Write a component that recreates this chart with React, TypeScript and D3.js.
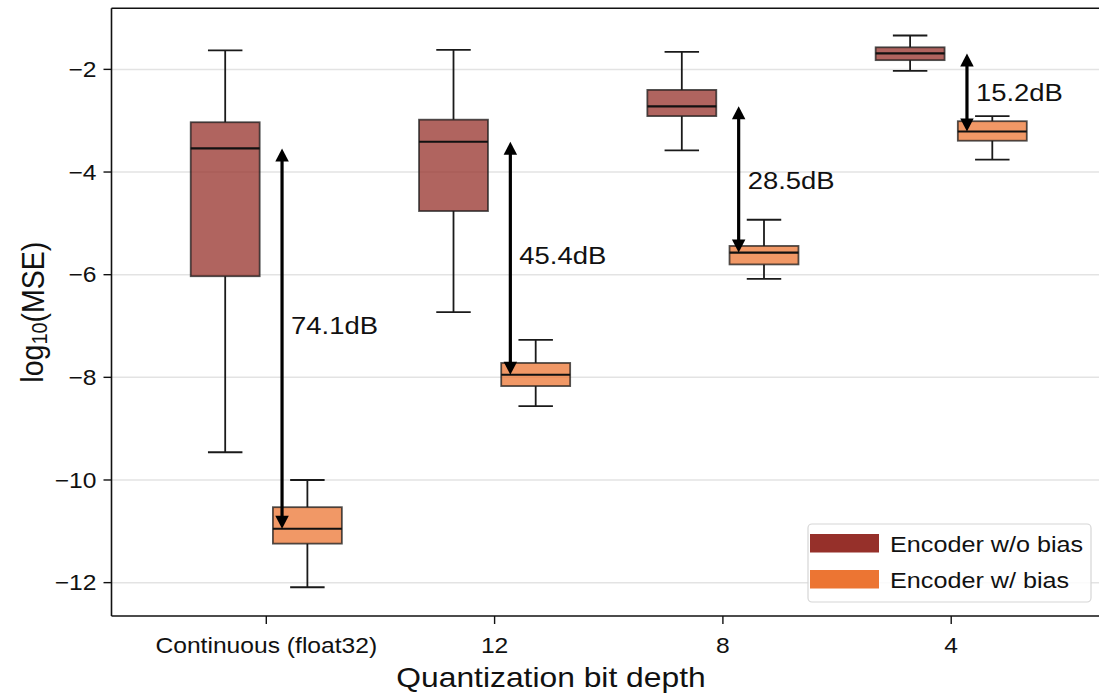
import React from "react";
import * as d3 from "d3";

const categories = ["Continuous (float32)", "12", "8", "4"];
// [whiskerLow, q1, median, q3, whiskerHigh]
const noBiasStats = [
  [-9.46, -6.03, -3.54, -3.03, -1.63],
  [-6.73, -4.76, -3.41, -2.98, -1.62],
  [-3.58, -2.91, -2.72, -2.4, -1.66],
  [-2.03, -1.82, -1.69, -1.57, -1.34],
];
const withBiasStats = [
  [-12.09, -11.24, -10.95, -10.53, -10.0],
  [-8.56, -8.17, -7.95, -7.72, -7.27],
  [-6.08, -5.8, -5.57, -5.44, -4.93],
  [-3.76, -3.39, -3.21, -3.01, -2.91],
];
const gainLabels = ["74.1dB", "45.4dB", "28.5dB", "15.2dB"];
const gainLabelY = [-7.0, -5.63, -4.17, -2.46];
const yTicks = [-2, -4, -6, -8, -10, -12];
const seriesNames = ["Encoder w/o bias", "Encoder w/ bias"];
const seriesColors = ["#96302a", "#ec7533"];

const W = 1099;
const H = 694;
const FONT = "'Liberation Sans', Arial, Helvetica, sans-serif";
const SX = 1.12;

function STxt(props: {
  x: number;
  y: number;
  size: number;
  anchor?: string;
  children: React.ReactNode;
}) {
  return (
    <g transform={`translate(${props.x},${props.y}) scale(${SX},1)`}>
      <text
        x={0}
        y={0}
        textAnchor={props.anchor || "start"}
        dominantBaseline="central"
        fontSize={props.size}
        fill="#111"
      >
        {props.children}
      </text>
    </g>
  );
}

export default function App() {
  const left = 111.5, right = 1106, top = 8.3, bottom = 616;
  const x = d3.scaleLinear().domain([-0.678, 3.678]).range([left, right]);
  const y = d3.scaleLinear().domain([-12.65, -0.81]).range([bottom, top]);
  const off = 0.18;
  const bw = 0.302;
  const unit = x(1) - x(0);
  const boxW = bw * unit;
  const capW = boxW / 2;

  const renderBox = (s: number[], cx: number, color: string, key: string) => {
    const [lo, q1, med, q3, hi] = s;
    const px = x(cx);
    return (
      <g key={key}>
        <line x1={px} x2={px} y1={y(hi)} y2={y(q3)} stroke="#1a1a1a" strokeWidth={1.8} />
        <line x1={px} x2={px} y1={y(q1)} y2={y(lo)} stroke="#1a1a1a" strokeWidth={1.8} />
        <line x1={px - capW / 2} x2={px + capW / 2} y1={y(hi)} y2={y(hi)} stroke="#1a1a1a" strokeWidth={1.8} />
        <line x1={px - capW / 2} x2={px + capW / 2} y1={y(lo)} y2={y(lo)} stroke="#1a1a1a" strokeWidth={1.8} />
        <rect
          x={px - boxW / 2}
          y={y(q3)}
          width={boxW}
          height={y(q1) - y(q3)}
          fill={color}
          fillOpacity={0.75}
          stroke="#1a1a1a"
          strokeOpacity={0.75}
          strokeWidth={1.8}
        />
        <line x1={px - boxW / 2} x2={px + boxW / 2} y1={y(med)} y2={y(med)} stroke="#111" strokeWidth={2.2} />
      </g>
    );
  };

  const arrowOff = 0.069;
  const headL = 13;
  const headW = 13.5;

  return (
    <svg
      width={W}
      height={H}
      style={{ position: "absolute", left: 0, top: 0, background: "#fff" }}
      fontFamily={FONT}
    >
      <rect x={0} y={0} width={W} height={H} fill="#fff" />
      {/* grid */}
      {yTicks.map((t) => (
        <line key={"g" + t} x1={left} x2={right} y1={y(t)} y2={y(t)} stroke="#e3e3e3" strokeWidth={1.5} />
      ))}
      {/* boxes */}
      {categories.map((c, i) => (
        <g key={c}>
          {renderBox(noBiasStats[i], i - off, seriesColors[0], "a" + i)}
          {renderBox(withBiasStats[i], i + off, seriesColors[1], "b" + i)}
        </g>
      ))}
      {/* arrows */}
      {categories.map((c, i) => {
        const ax = x(i + arrowOff);
        const y1 = y(noBiasStats[i][2]);
        const y2 = y(withBiasStats[i][2]);
        return (
          <g key={"ar" + i}>
            <line x1={ax} x2={ax} y1={y1 + headL - 1} y2={y2 - headL + 1} stroke="#000" strokeWidth={3.2} />
            <path d={`M${ax},${y1} L${ax - headW / 2},${y1 + headL} L${ax + headW / 2},${y1 + headL} Z`} fill="#000" />
            <path d={`M${ax},${y2} L${ax - headW / 2},${y2 - headL} L${ax + headW / 2},${y2 - headL} Z`} fill="#000" />
            <STxt x={ax + 9} y={y(gainLabelY[i])} size={24.5}>
              {gainLabels[i]}
            </STxt>
          </g>
        );
      })}
      {/* spines */}
      <line x1={left} x2={left} y1={top} y2={bottom} stroke="#111" strokeWidth={1.6} />
      <line x1={left} x2={right} y1={top} y2={top} stroke="#111" strokeWidth={1.6} />
      <line x1={left} x2={right} y1={bottom} y2={bottom} stroke="#111" strokeWidth={1.6} />
      {/* y ticks */}
      {yTicks.map((t) => (
        <g key={"yt" + t}>
          <line x1={left - 8} x2={left} y1={y(t)} y2={y(t)} stroke="#111" strokeWidth={1.4} />
          <STxt x={left - 15} y={y(t)} size={22} anchor="end">
            {"\u2212" + Math.abs(t)}
          </STxt>
        </g>
      ))}
      {/* x ticks */}
      {categories.map((c, i) => (
        <g key={"xt" + i}>
          <line x1={x(i)} x2={x(i)} y1={bottom} y2={bottom + 8} stroke="#111" strokeWidth={1.4} />
          <STxt x={x(i)} y={bottom + 29} size={22} anchor="middle">
            {c}
          </STxt>
        </g>
      ))}
      {/* axis labels */}
      <STxt x={551} y={677} size={28.4} anchor="middle">
        Quantization bit depth
      </STxt>
      <g transform={`translate(32,${(top + bottom) / 2}) scale(${SX},1) rotate(-90)`}>
        <text textAnchor="middle" dominantBaseline="central" fontSize={28.5} fill="#111">
          log
          <tspan fontSize={20} dy={6}>10</tspan>
          <tspan dy={-6}>(MSE)</tspan>
        </text>
      </g>
      {/* legend */}
      <g>
        <rect x={808} y={524} width={283} height={78} rx={4} fill="#fff" fillOpacity={0.85} stroke="#d6d6d6" strokeWidth={1.2} />
        {seriesNames.map((n, i) => (
          <g key={n}>
            <rect x={810} y={534 + i * 36} width={69} height={18.5} fill={seriesColors[i]} />
            <STxt x={890} y={543.5 + i * 36} size={22.5}>
              {n}
            </STxt>
          </g>
        ))}
      </g>
    </svg>
  );
}
